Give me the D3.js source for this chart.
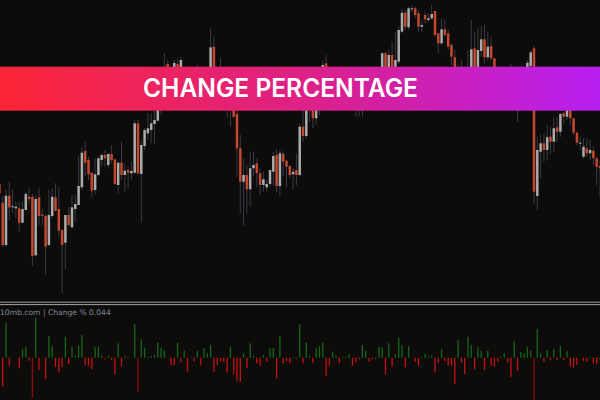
<!DOCTYPE html>
<html>
<head>
<meta charset="utf-8">
<script src="https://cdn.jsdelivr.net/npm/d3@7"></script>
<style>
html,body{margin:0;padding:0;background:#0e0c0b;}
svg{display:block;}
</style>
</head>
<body>
<script>
// ---- DATA ----
const openP = [1.08160,
1.07973,1.07550,1.08043,1.07930,1.07917,1.07917,1.07773,1.07900,1.08033,1.08033,
1.07447,1.08027,1.07853,1.07840,1.07550,1.07840,1.08027,1.07910,1.07700,1.07573,
1.07850,1.07727,1.07910,1.07950,1.08127,1.08490,1.08400,1.08273,1.08100,1.08250,
1.08400,1.08450,1.08350,1.08460,1.08407,1.08150,1.08373,1.08250,1.08300,1.08267,
1.08273,1.08767,1.08260,1.08540,1.08667,1.08700,1.08760,1.08793,1.08960,1.09050,
1.09360,1.09180,1.09220,1.09360,1.09280,1.09250,1.09300,1.09120,1.09150,1.09100,
1.09220,1.09140,1.09240,1.09300,1.09533,1.09320,1.09260,1.09220,1.09180,1.09000,
1.09070,1.08860,1.08517,1.08183,1.08250,1.08107,1.08317,1.08367,1.08267,1.08150,
1.08127,1.08160,1.08283,1.08450,1.08140,1.08460,1.08393,1.08340,1.08257,1.08300,
1.08250,1.08733,1.08640,1.08920,1.08940,1.08817,1.08950,1.09120,1.09367,1.09080,
1.09000,1.09060,1.09080,1.09020,1.09040,1.09050,1.09100,1.09020,1.08980,1.08970,
1.09080,1.09150,1.09110,1.09100,1.09090,1.09300,1.09467,1.09230,1.09450,1.09300,
1.09383,1.09683,1.09873,1.09727,1.09907,1.09917,1.09867,1.09733,1.09850,1.09800,
1.09817,1.09890,1.09667,1.09567,1.09707,1.09667,1.09550,1.09427,1.09050,1.09300,
1.09220,1.09000,1.09300,1.09517,1.09330,1.09490,1.09607,1.09427,1.09540,1.09417,
1.09280,1.09220,1.09230,1.09280,1.09210,1.08930,1.09160,1.08970,1.09100,1.09200,
1.09340,1.09517,1.08040,1.08483,1.08567,1.08500,1.08633,1.08583,1.08727,1.08683,
1.08867,1.08833,1.08920,1.08817,1.08673,1.08567,1.08433,1.08517,1.08467,1.08493,
1.08417,1.08340];
const highP = [1.08220,
1.08040,1.08100,1.08183,1.08110,1.07983,1.07983,1.07983,1.08083,1.08127,1.08067,
1.08050,1.08117,1.07917,1.07860,1.08100,1.08117,1.08167,1.08133,1.07700,1.07850,
1.07933,1.08050,1.08050,1.08433,1.08533,1.08583,1.08433,1.08273,1.08417,1.08433,
1.08467,1.08500,1.08460,1.08550,1.08407,1.08373,1.08583,1.08367,1.08333,1.08383,
1.08800,1.08800,1.08600,1.08720,1.08867,1.08867,1.08900,1.09000,1.09100,1.09467,
1.09400,1.09320,1.09400,1.09410,1.09430,1.09320,1.09320,1.09200,1.09220,1.09350,
1.09280,1.09300,1.09320,1.09717,1.09633,1.09320,1.09417,1.09280,1.09220,1.09120,
1.09100,1.08900,1.08650,1.08417,1.08350,1.08483,1.08483,1.08417,1.08317,1.08283,
1.08200,1.08300,1.08483,1.08507,1.08500,1.08483,1.08400,1.08350,1.08317,1.08467,
1.08767,1.08900,1.09000,1.09020,1.09000,1.09000,1.09150,1.09400,1.09450,1.09120,
1.09100,1.09120,1.09120,1.09080,1.09100,1.09140,1.09140,1.09060,1.09020,1.09120,
1.09200,1.09200,1.09160,1.09150,1.09320,1.09483,1.09483,1.09507,1.09583,1.09683,
1.09733,1.09917,1.09900,1.09933,1.09950,1.09933,1.09900,1.09800,1.09883,1.09867,
1.09950,1.09890,1.09667,1.09817,1.09800,1.09700,1.09567,1.09500,1.09350,1.09400,
1.09260,1.09500,1.09800,1.09683,1.09717,1.09733,1.09750,1.09683,1.09633,1.09417,
1.09300,1.09260,1.09300,1.09300,1.09360,1.09200,1.09200,1.09140,1.09240,1.09400,
1.09500,1.09540,1.08633,1.08650,1.08667,1.08750,1.08733,1.08833,1.08833,1.08867,
1.08883,1.08950,1.08950,1.08817,1.08683,1.08633,1.08617,1.08617,1.08600,1.08533,
1.08433,1.08400];
const lowP = [1.08000,
1.07530,1.07533,1.07800,1.07870,1.07817,1.07683,1.07767,1.07900,1.07967,1.07340,
1.07433,1.07750,1.07750,1.07250,1.07540,1.07817,1.07883,1.07633,1.07067,1.07307,
1.07733,1.07717,1.07783,1.07950,1.08100,1.08233,1.08200,1.08017,1.08050,1.08233,
1.08333,1.08333,1.08317,1.08367,1.08150,1.08067,1.08200,1.08083,1.08117,1.08200,
1.08260,1.08250,1.07773,1.08500,1.08600,1.08567,1.08567,1.08780,1.08850,1.09020,
1.09160,1.09120,1.09200,1.09240,1.09250,1.09200,1.09080,1.09050,1.09060,1.09080,
1.09100,1.09120,1.09200,1.09280,1.09280,1.09200,1.09180,1.09140,1.08817,1.08733,
1.08820,1.08233,1.07867,1.07750,1.07867,1.07933,1.08233,1.08133,1.08050,1.08083,
1.08083,1.08133,1.08150,1.08073,1.08040,1.08233,1.08127,1.08217,1.08100,1.08150,
1.08240,1.08583,1.08617,1.08783,1.08717,1.08750,1.08850,1.09080,1.09050,1.08960,
1.08960,1.09020,1.08980,1.08960,1.09000,1.09000,1.08960,1.08833,1.08833,1.08833,
1.09040,1.09060,1.09060,1.09040,1.09060,1.09260,1.09200,1.09200,1.09280,1.09260,
1.09360,1.09670,1.09700,1.09700,1.09880,1.09820,1.09683,1.09683,1.09767,1.09783,
1.09800,1.09633,1.09467,1.09550,1.09633,1.09500,1.09350,1.09000,1.09020,1.09180,
1.08960,1.08960,1.09280,1.09280,1.09300,1.09433,1.09367,1.09400,1.09400,1.09240,
1.09160,1.09180,1.09200,1.09160,1.08900,1.08900,1.08783,1.08940,1.09060,1.09180,
1.09320,1.07960,1.07900,1.08217,1.08383,1.08400,1.08467,1.08483,1.08583,1.08633,
1.08767,1.08800,1.08750,1.08650,1.08550,1.08500,1.08417,1.08433,1.08400,1.08350,
1.08150,1.08017];
const closeP = [1.08067,
1.07550,1.08043,1.07927,1.07937,1.07933,1.07773,1.07910,1.08060,1.08010,1.07440,
1.08010,1.07840,1.07840,1.07533,1.07850,1.08033,1.07893,1.07693,1.07550,1.07850,
1.07750,1.07927,1.07960,1.08140,1.08473,1.08373,1.08257,1.08093,1.08257,1.08417,
1.08450,1.08417,1.08460,1.08400,1.08160,1.08373,1.08250,1.08293,1.08273,1.08290,
1.08767,1.08267,1.08550,1.08700,1.08717,1.08767,1.08800,1.08960,1.09050,1.09220,
1.09200,1.09300,1.09370,1.09280,1.09400,1.09320,1.09100,1.09110,1.09100,1.09220,
1.09140,1.09240,1.09300,1.09527,1.09320,1.09260,1.09220,1.09180,1.09000,1.09070,
1.08833,1.08517,1.08183,1.08250,1.08107,1.08317,1.08350,1.08267,1.08150,1.08207,
1.08160,1.08300,1.08440,1.08140,1.08467,1.08383,1.08333,1.08250,1.08283,1.08250,
1.08733,1.08640,1.08950,1.08970,1.08817,1.08950,1.09120,1.09350,1.09080,1.09000,
1.09060,1.09080,1.09020,1.09040,1.09050,1.09100,1.09020,1.08980,1.08970,1.09080,
1.09150,1.09110,1.09100,1.09090,1.09300,1.09467,1.09230,1.09450,1.09320,1.09400,
1.09700,1.09873,1.09733,1.09917,1.09917,1.09850,1.09733,1.09750,1.09807,1.09817,
1.09860,1.09650,1.09567,1.09707,1.09650,1.09533,1.09433,1.09050,1.09300,1.09220,
1.09000,1.09300,1.09507,1.09330,1.09500,1.09607,1.09427,1.09533,1.09417,1.09280,
1.09220,1.09230,1.09280,1.09210,1.08930,1.09160,1.08970,1.09100,1.09200,1.09373,
1.09477,1.08083,1.08500,1.08567,1.08500,1.08627,1.08583,1.08717,1.08683,1.08860,
1.08833,1.08920,1.08817,1.08673,1.08573,1.08573,1.08533,1.08467,1.08500,1.08417,
1.08333,1.08317];
const changePct = [0,
-0.145,0.172,-0.04,0,0,-0.053,0.043,0.052,-0.015,-0.2,
0.2,-0.062,0,-0.108,0.108,0.058,-0.047,-0.072,-0.047,0.105,
-0.032,0.055,0.01,0.06,0.113,-0.037,-0.04,-0.057,0.052,0.055,
0.01,-0.008,0.01,-0.012,-0.083,0.072,-0.042,0.01,0.005,0,
0.167,-0.17,0.092,0.05,0.003,0.01,0.013,0.075,0.05,0.038,
0,-0.037,-0.037,0.075,-0.023,0.035,-0.07,0.003,-0.017,0.033,
-0.037,0.047,0.022,0.063,-0.07,-0.037,-0.017,-0.02,-0.073,0.055,
-0.082,-0.115,-0.12,0.022,-0.053,0.072,0.01,-0.028,-0.04,0.013,
-0.02,0.047,0.047,-0.103,0.108,-0.028,-0.017,-0.028,0.003,-0.007,
0.167,-0.028,0.075,0.008,-0.028,0.047,0.058,0.075,-0.092,-0.04,
0.03,0.01,-0.028,0.005,0.005,0.018,-0.04,-0.023,-0.007,0.063,
0.035,-0.02,-0.007,-0.007,0.055,0.052,-0.082,0.072,-0.045,0.017,
0.1,0.063,-0.048,0.058,0,-0.02,-0.04,0.005,0.018,0.005,
0.01,-0.073,-0.028,0.043,-0.017,-0.04,-0.04,-0.132,0.088,-0.025,
-0.082,0.105,0.063,-0.057,0.052,0.035,-0.062,0.035,-0.04,-0.045,
-0.02,0.005,0.022,-0.025,-0.095,0.083,-0.065,0.027,0.022,0.055,
0.035,-0.23,0.143,0.022,-0.02,0.038,-0.012,0.043,-0.012,0.058,
-0.012,0.033,-0.045,-0.05,-0.037,0,-0.017,-0.02,0.005,-0.028,
-0.032,-0.007];
const priceDomain = [1.0700, 1.1000];
const changeDomain = [-0.2, 0.2];
const titleText = "CHANGE PERCENTAGE";
const paneLabel = "10mb.com | Change % 0.044";

// ---- CHART ----
const W = 600, H = 400;
const svg = d3.select("body").append("svg").attr("width", W).attr("height", H);
svg.append("rect").attr("width", W).attr("height", H).attr("fill", "#0e0c0b");

const N = openP.length;
const x = d3.scaleLinear().domain([0, N - 1]).range([-0.6, -0.6 + 3.3 * (N - 1)]);
const y = d3.scaleLinear().domain(priceDomain).range([300, 0]);
const yc = d3.scaleLinear().domain(changeDomain).range([397.7, 317.7]);

const candles = d3.range(N).map(i => ({i, o: openP[i], h: highP[i], l: lowP[i], c: closeP[i]}));

const defs = svg.append("defs");
defs.append("clipPath").attr("id", "clipMain").append("rect").attr("x", 0).attr("y", 0).attr("width", W).attr("height", 300);
const main = svg.append("g").attr("clip-path", "url(#clipMain)");

main.selectAll("line.wick").data(candles).join("line")
  .attr("class", "wick")
  .attr("x1", d => x(d.i)).attr("x2", d => x(d.i))
  .attr("y1", d => y(d.h)).attr("y2", d => y(d.l))
  .attr("stroke", "#353b47").attr("stroke-width", 1);

const bw = 2.5;
main.selectAll("rect.body").data(candles).join("rect")
  .attr("class", "body")
  .attr("x", d => x(d.i) - bw / 2)
  .attr("width", bw)
  .attr("y", d => y(Math.max(d.o, d.c)))
  .attr("height", d => Math.max(1, Math.abs(y(d.o) - y(d.c))))
  .attr("fill", d => d.c >= d.o ? "#ababab" : "#c4472e");

// pane separator
svg.append("line").attr("x1", 0).attr("x2", W).attr("y1", 302.2).attr("y2", 302.2).attr("stroke", "#a4a4a4").attr("stroke-width", 1);
svg.append("line").attr("x1", 0).attr("x2", W).attr("y1", 304.6).attr("y2", 304.6).attr("stroke", "#a4a4a4").attr("stroke-width", 1);

// histogram
const hist = d3.range(N).map(i => ({i, v: changePct[i]}));
const hw = 1.3;
svg.append("g").selectAll("rect").data(hist.filter(d => d.v !== 0)).join("rect")
  .attr("x", d => x(d.i) - hw / 2)
  .attr("width", hw)
  .attr("y", d => Math.min(yc(d.v), yc(0)))
  .attr("height", d => Math.abs(yc(d.v) - yc(0)))
  .attr("fill", d => d.v > 0 ? "#146814" : (d.v < -0.15 ? "#8e0c0c" : "#c41212"));

svg.append("text").attr("x", 0).attr("y", 314.5)
  .attr("font-family", "DejaVu Sans, sans-serif").attr("font-size", 7.6)
  .attr("fill", "#7e8b99").text(paneLabel);

// banner
const grad = defs.append("linearGradient").attr("id", "bannerGrad").attr("x1", "0%").attr("x2", "100%");
grad.append("stop").attr("offset", "0%").attr("stop-color", "#fb2535");
grad.append("stop").attr("offset", "50%").attr("stop-color", "#de2185");
grad.append("stop").attr("offset", "100%").attr("stop-color", "#b71ff2");
svg.append("rect").attr("x", 0).attr("y", 66.7).attr("width", W).attr("height", 44)
  .attr("fill", "url(#bannerGrad)");
svg.append("text").attr("x", 280.5).attr("y", 96.8)
  .attr("text-anchor", "middle")
  .attr("font-family", "Inter, Lato, sans-serif").attr("font-weight", 600)
  .attr("font-size", 25).attr("fill", "#ffffff")
  .attr("textLength", 275).attr("lengthAdjust", "spacingAndGlyphs")
  .text(titleText);
</script>
</body>
</html>
